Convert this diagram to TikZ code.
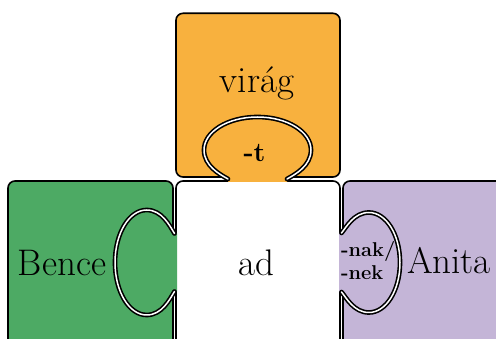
\documentclass[tikz,border=0pt]{standalone}
\usepackage{fontspec}
\definecolor{porange}{RGB}{248,177,62}
\definecolor{pgreen}{RGB}{77,170,100}
\definecolor{ppurple}{RGB}{196,181,215}
\begin{document}
\begin{tikzpicture}[x=1pt,y=-1pt,
  piece/.style={draw=black,line width=1.6pt,rounded corners=7pt},
  tabline/.style={draw=black,line width=1.6pt,double=white,double distance=1.5pt,line cap=round,line join=round},
  word/.style={inner sep=0pt,anchor=base,font=\fontsize{37}{40}\selectfont},
  suffix/.style={inner sep=0pt,font=\bfseries\fontsize{20}{23}\selectfont}]
\useasboundingbox (0,0) rectangle (496,339);
\clip (0,0) rectangle (496,339);
% pieces
\path[piece,fill=porange] (176,13.3) rectangle (340,177);
\path[piece,fill=pgreen] (8,181) rectangle (173,370);
\path[piece,fill=white] (176,181) rectangle (340,370);
\path[piece,fill=ppurple] (343,181) rectangle (530,370);
% top tab
\def\toptab{(228,179) .. controls (220,174.5) and (204,166) .. (204,150)
  .. controls (204,131.8) and (227.7,117) .. (257.5,117)
  .. controls (287.3,117) and (311,131.8) .. (311,150)
  .. controls (311,166) and (295,174.5) .. (287,179)}
\fill[porange] \toptab -- (287,182) -- (228,182) -- cycle;
\draw[tabline] \toptab;
% left tab
\def\lefttab{(174.5,233.5) .. controls (169.7,225.7) and (162,210) .. (146.7,210)
  .. controls (129.2,210) and (115,233.3) .. (115,262.5)
  .. controls (115,291.7) and (129.2,315) .. (146.7,315)
  .. controls (162,315) and (169.7,299.3) .. (174.5,291.5)}
\fill[pgreen] \lefttab -- (177,291.5) -- (177,233.5) -- cycle;
\draw[tabline] \lefttab;
% right tab
\def\righttab{(341.5,233) .. controls (346.2,227.4) and (353.8,212.5) .. (368.9,212.5)
  .. controls (386.1,212.5) and (400,234.6) .. (400,262.5)
  .. controls (400,290.4) and (386.1,312.5) .. (368.9,312.5)
  .. controls (353.8,312.5) and (346.2,297.6) .. (341.5,292)}
\fill[ppurple] \righttab -- (339,292) -- (339,233) -- cycle;
\draw[tabline] \righttab;
% texts
\node[word] (virag) at (257,93) {virág};
\node[word] (bence) at (62,276) {Bence};
\node[word] (ad) at (256,276) {ad};
\node[word] (anita) at (449,274) {Anita};
\node[suffix,anchor=base,font=\bfseries\fontsize{27}{29}\selectfont] (t) at (254.5,162) {-t};
\node[suffix,anchor=base west] (nak) at (341,257) {-nak/};
\node[suffix,anchor=base west] (nek) at (341,280) {-nek};
\end{tikzpicture}
\end{document}
